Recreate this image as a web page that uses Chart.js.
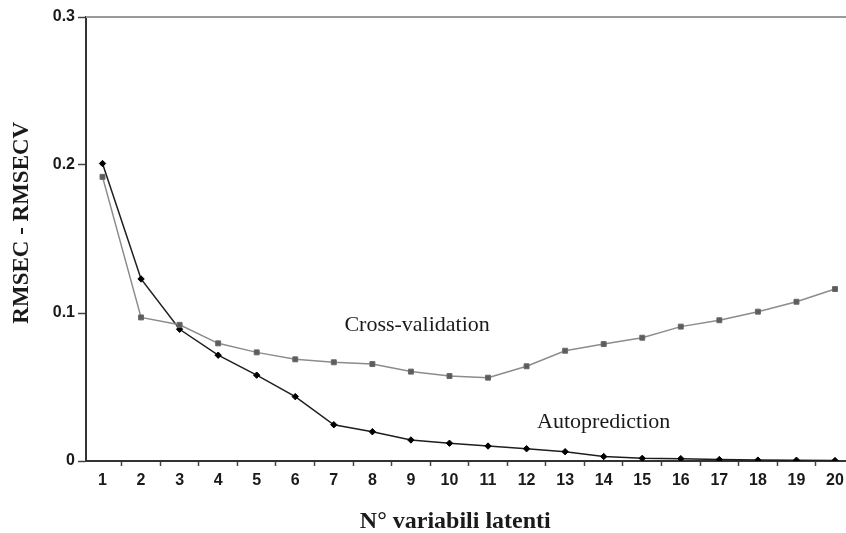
<!DOCTYPE html>
<html>
<head>
<meta charset="utf-8">
<title>RMSEC - RMSECV</title>
<script src="https://cdn.jsdelivr.net/npm/chart.js@4.4.1/dist/chart.umd.min.js"></script>
<style>
    html, body { margin: 0; padding: 0; background: #fff; overflow: hidden; }
    #rmseChart { display: block; }
</style>
</head>
<body>
<canvas id="rmseChart" width="846" height="533"></canvas>
<script>
// Numero di variabili latenti (asse x)
const latentVars = [1, 2, 3, 4, 5, 6, 7, 8, 9, 10, 11, 12, 13, 14, 15, 16, 17, 18, 19, 20];

// RMSEC (autoprediction)
const autoprediction = [0.201, 0.123, 0.089, 0.0715, 0.058, 0.0435, 0.0245, 0.0198, 0.0142, 0.012,
                        0.0101, 0.0083, 0.0063, 0.003, 0.0018, 0.0016, 0.001, 0.0006, 0.0005, 0.0003];

// RMSECV (cross-validation)
const crossValidation = [0.192, 0.097, 0.092, 0.0795, 0.0734, 0.0687, 0.0667, 0.0655, 0.0604, 0.0574,
                         0.0563, 0.064, 0.0745, 0.079, 0.0833, 0.0908, 0.0951, 0.1009, 0.1076, 0.1162];

const yTicks = [0, 0.1, 0.2, 0.3];

// Etichette scritte dentro il grafico
const seriesLabels = [
    { text: 'Cross-validation', x: 9.16, y: 0.0915 },
    { text: 'Autoprediction', x: 14.0, y: 0.026 }
];

const xTitle = 'N° variabili latenti';
const yTitle = 'RMSEC - RMSECV';

const serifFont = '"Liberation Serif", "Times New Roman", serif';
const toPoints = values => values.map((v, i) => ({ x: latentVars[i], y: v }));

// Linea grigia sul bordo superiore dell'area del grafico
const topFrame = {
    id: 'topFrame',
    beforeDatasetsDraw(chart) {
        const { ctx, chartArea } = chart;
        ctx.save();
        ctx.strokeStyle = '#9a9a9a';
        ctx.lineWidth = 2;
        ctx.beginPath();
        ctx.moveTo(chartArea.left, chartArea.top);
        ctx.lineTo(chartArea.right, chartArea.top);
        ctx.stroke();
        ctx.restore();
    }
};

// Nomi delle serie vicino alle curve + titoli degli assi
const chartTexts = {
    id: 'chartTexts',
    afterDatasetsDraw(chart) {
        const { ctx, scales } = chart;
        ctx.save();
        ctx.fillStyle = '#1a1a1a';
        ctx.textAlign = 'center';
        ctx.textBaseline = 'middle';

        ctx.font = '22px ' + serifFont;
        seriesLabels.forEach(l => {
            ctx.fillText(l.text, scales.x.getPixelForValue(l.x), scales.y.getPixelForValue(l.y));
        });

        // titolo asse x, sotto le etichette
        ctx.font = 'bold 24px ' + serifFont;
        ctx.fillText(xTitle, scales.x.getPixelForValue(10.15), 522);

        // titolo asse y, ruotato
        ctx.font = 'bold 23px ' + serifFont;
        ctx.translate(22, scales.y.getPixelForValue(0.161));
        ctx.rotate(-Math.PI / 2);
        ctx.fillText(yTitle, 0, 0);
        ctx.restore();
    }
};

const ctx = document.getElementById('rmseChart').getContext('2d');
new Chart(ctx, {
    type: 'line',
    data: {
        datasets: [{
            label: 'Cross-validation',
            data: toPoints(crossValidation),
            borderColor: '#8c8c8c',
            borderWidth: 1.5,
            pointStyle: 'rect',
            pointRadius: 3.5,
            pointBackgroundColor: '#5c5c5c',
            pointBorderColor: '#6a6a6a',
            pointBorderWidth: 1,
            tension: 0
        }, {
            label: 'Autoprediction',
            data: toPoints(autoprediction),
            borderColor: '#1e1e1e',
            borderWidth: 1.5,
            pointStyle: 'rectRot',
            pointRadius: 3.2,
            pointBackgroundColor: '#000',
            pointBorderColor: '#000',
            pointBorderWidth: 1,
            tension: 0
        }]
    },
    options: {
        responsive: false,
        animation: false,
        devicePixelRatio: 1,
        layout: {
            autoPadding: false,
            padding: { top: 17, right: 0, bottom: 0, left: 0 }
        },
        plugins: {
            legend: { display: false },
            tooltip: { enabled: false }
        },
        scales: {
            x: {
                type: 'linear',
                min: 0.572,
                max: 20.285,
                afterBuildTicks: scale => {
                    const ticks = [];
                    latentVars.forEach(v => {
                        ticks.push({ value: v });
                        ticks.push({ value: v + 0.5 });
                    });
                    scale.ticks = ticks.filter(t => t.value <= scale.max);
                },
                afterFit: scale => {
                    scale.height = 72;
                    scale.paddingLeft = 0;
                    scale.paddingRight = 0;
                },
                border: { display: true, color: '#333', width: 2 },
                grid: {
                    drawOnChartArea: false,
                    drawTicks: true,
                    tickLength: 5,
                    tickWidth: 1.5,
                    tickColor: c => (c.tick && Number.isInteger(c.tick.value)) ? 'rgba(0,0,0,0)' : '#444'
                },
                ticks: {
                    autoSkip: false,
                    maxRotation: 0,
                    padding: 5,
                    color: '#1a1a1a',
                    font: { family: '"Liberation Sans", Arial, sans-serif', size: 16, weight: 'bold' },
                    callback: v => Number.isInteger(v) ? String(v) : ''
                }
            },
            y: {
                type: 'linear',
                min: 0,
                max: 0.3,
                afterBuildTicks: scale => { scale.ticks = yTicks.map(v => ({ value: v })); },
                afterFit: scale => { scale.width = 86; },
                border: { display: true, color: '#333', width: 2 },
                grid: {
                    drawOnChartArea: false,
                    drawTicks: true,
                    tickLength: 8,
                    tickWidth: 1.5,
                    tickColor: '#444'
                },
                ticks: {
                    padding: 3,
                    color: '#1a1a1a',
                    font: { family: '"Liberation Sans", Arial, sans-serif', size: 16, weight: 'bold' },
                    callback: v => v === 0 ? '0' : v.toFixed(1)
                }
            }
        }
    },
    plugins: [topFrame, chartTexts]
});
</script>
</body>
</html>
